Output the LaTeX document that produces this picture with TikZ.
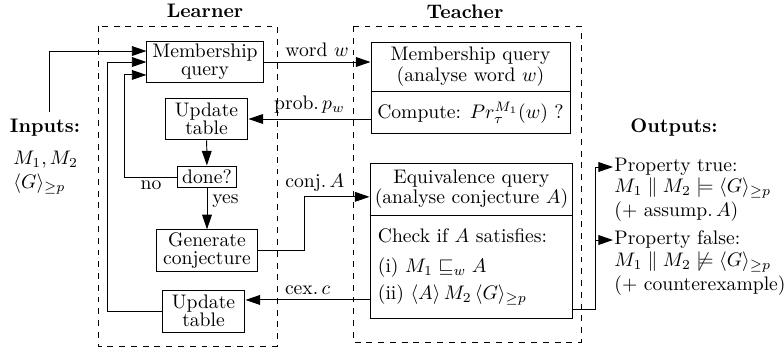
\documentclass[tikz,border=0pt]{standalone}
\usepackage{amssymb}
\usetikzlibrary{arrows.meta}
\begin{document}
\begin{tikzpicture}[x=0.51pt,y=-0.51pt,->,>={Triangle[length=7.5pt,width=5pt]},line width=0.5pt]
	\tikzstyle{procbox}=[rectangle,draw=black,align=center,inner sep=1.5pt,font=\linespread{0.75}\selectfont]
	\tikzstyle{group}=[draw=black,dashed,-,line width=0.5pt]
	\tikzstyle{heading}=[font=\bfseries]
	\tikzstyle{weight}=[inner sep=2.5pt]
	\tikzstyle{outtext}=[align=left,inner xsep=0.5pt,inner ysep=1pt]
	\useasboundingbox (0,0) rectangle (784,352);
	% the two parties
	\draw[group] (98,26) rectangle (277,346);
	\draw[group] (353,26) rectangle (581,342);
	\node[heading] (learner) at (205,11) {Learner};
	\node[heading] (teacher) at (465,12) {Teacher};
	% learner
	\node[procbox,minimum width=59.2pt,minimum height=21.4pt] (lmq) at (205,62) {Membership\\query};
	\node[procbox,minimum width=42.3pt,minimum height=21.4pt] (upd1) at (206.5,119) {Update\\table};
	\node[procbox,minimum width=29.6pt,minimum height=11.2pt] (done) at (207,177) {done?};
	\node[procbox,minimum width=52pt,minimum height=20.9pt] (gen) at (207,250.5) {Generate\\conjecture};
	\node[procbox,minimum width=42.3pt,minimum height=21.4pt] (upd2) at (203.5,311) {Update\\table};
	% teacher
	\node[procbox,minimum width=101.5pt,minimum height=25pt] (tmqA) at (470.5,66.5) {Membership query\\(analyse word $w$)};
	\node[procbox,minimum width=101.5pt,minimum height=21.9pt] (tmqB) at (470.5,112.5) {Compute: $Pr^{M_1}_{\tau}(w)$ ?};
	\node[procbox,minimum width=103.5pt,minimum height=26.5pt] (eqA) at (471.5,189) {Equivalence query\\(analyse conjecture $A$)};
	\node[procbox,minimum height=53pt,text width=95.5pt,align=left,inner xsep=4pt,font=\linespread{1}\selectfont] (eqB) at (471.5,267) {Check if $A$ satisfies:\\[3.3pt](i) $M_1 \sqsubseteq_w A$\\[1.8pt](ii) $\langle A\rangle\, M_2\, \langle G\rangle_{\geq p}$};
	% inputs and outputs
	\node[heading] (inputs) at (45,128) {Inputs:};
	\node[outtext,anchor=west] (inputvals) at (12,172.5) {$M_1, M_2$\\$\langle G\rangle_{\geq p}$};
	\node[heading] (outputs) at (674,128) {Outputs:};
	\node[outtext,anchor=west] (ptrue) at (613,167) {Property true:};
	\node[outtext,anchor=west] (ptruedesc) at (613,199.5) {$M_1 \parallel M_2 \models \langle G\rangle_{\geq p}$\\(+ assump.\,$A$)};
	\node[outtext,anchor=west] (pfalse) at (613,240) {Property false:};
	\node[outtext,anchor=west] (pfalsedesc) at (613,273.5) {$M_1 \parallel M_2 \not\models \langle G\rangle_{\geq p}$\\(+ counterexample)};
	\coordinate (cex) at ([yshift=-16.8pt]eqB.west);
	\coordinate (verdict) at ([yshift=-21.9pt]eqB.east);
	% connectors
	\draw ([xshift=2.5pt]inputs.north) |- ([yshift=5.6pt]lmq.west);
	\draw (upd2.west) -- ++(-54,0) |- (lmq.west);
	\draw (done.west) -- node[weight,below,inner sep=1.5pt] {no} ++(-53,0) |- ([yshift=-6.6pt]lmq.west);
	\draw (upd1) -- (done);
	\draw (done) -- node[weight,right,pos=0.3] {yes} (gen);
	\draw (lmq.east) -- node[weight,above] {word $w$} (lmq.east -| tmqA.west);
	\draw (tmqB.west |- upd1.east) -- node[weight,above] {prob.\,$p_w$} (upd1.east);
	\draw (gen.east) -- ++(46,0) |- node[weight,above,pos=0.58] {conj.\,$A$} ([yshift=-4pt]eqA.west);
	\draw (cex) -- node[weight,above] {cex.\,$c$} (cex -| upd2.east);
	\draw (verdict) -| ([xshift=-8.7pt]ptrue.west) -- (ptrue.west);
	\draw ([xshift=-8.7pt]pfalse.west) -- (pfalse.west);
\end{tikzpicture}
\end{document}
